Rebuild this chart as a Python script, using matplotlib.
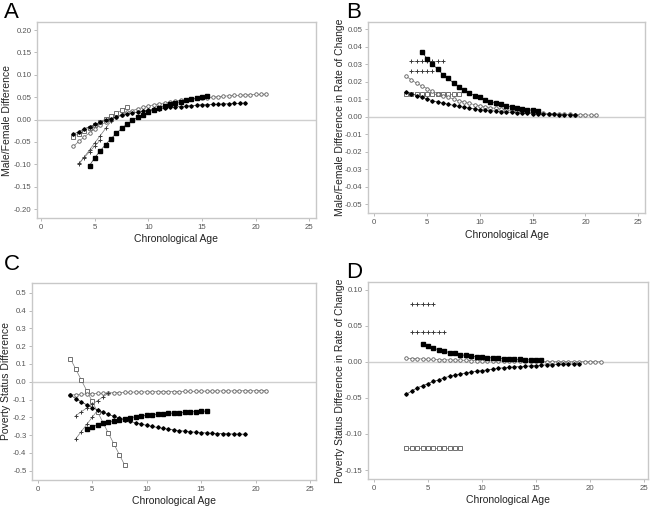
import numpy as np
import matplotlib
matplotlib.use("Agg")
import matplotlib.pyplot as plt

plt.rcParams["font.family"] = ["Liberation Sans", "DejaVu Sans"]

# ages (half-year steps)
age_sq = np.arange(4.5, 16.0, 0.5)      # filled squares 4.5-15.5
age_oc = np.arange(3.0, 21.5, 0.5)      # open circles 3-21
age_fc = np.arange(3.0, 19.5, 0.5)      # filled circles 3-19
age_os = np.arange(3.0, 8.5, 0.5)       # open squares 3-8
age_p1 = np.arange(3.5, 7.0, 0.5)       # plus 3.5-6.5
age_p2 = np.arange(3.5, 6.0, 0.5)       # plus 3.5-5.5

# Panel A: male/female difference
a_sq = [-0.103, -0.085, -0.070, -0.056, -0.043, -0.031, -0.020, -0.010, -0.002, 0.005, 0.011, 0.017,
        0.022, 0.026, 0.030, 0.034, 0.037, 0.040, 0.043, 0.045, 0.047, 0.050, 0.052]
a_oc = [-0.060, -0.049, -0.039, -0.030, -0.021, -0.013, -0.006, 0.000, 0.006, 0.011, 0.016, 0.020,
        0.024, 0.027, 0.030, 0.033, 0.035, 0.037, 0.039, 0.041, 0.043, 0.044, 0.046, 0.047, 0.048,
        0.049, 0.050, 0.051, 0.052, 0.053, 0.054, 0.054, 0.055, 0.055, 0.056, 0.056, 0.057]
a_fc = [-0.033, -0.027, -0.021, -0.016, -0.011, -0.006, -0.002, 0.002, 0.006, 0.009, 0.012, 0.015,
        0.017, 0.019, 0.021, 0.023, 0.024, 0.026, 0.027, 0.028, 0.029, 0.030, 0.031, 0.032, 0.033,
        0.033, 0.034, 0.034, 0.035, 0.035, 0.036, 0.036, 0.037]
a_os = [-0.038, -0.0315, -0.025, -0.0185, -0.012, -0.0055, 0.001, 0.0075, 0.014, 0.0205, 0.027]
a_p1 = [-0.100, -0.084, -0.068, -0.052, -0.036, -0.020, -0.004]
a_p2 = [-0.098, -0.085, -0.072, -0.059, -0.046]

# Panel B: male/female difference in rate of change
b_sq = [0.037, 0.033, 0.030, 0.027, 0.024, 0.022, 0.019, 0.017, 0.015, 0.0135, 0.012, 0.011,
        0.0095, 0.0085, 0.0078, 0.007, 0.006, 0.0055, 0.005, 0.0045, 0.004, 0.0035, 0.003]
b_oc = [0.023, 0.021, 0.019, 0.0175, 0.016, 0.0145, 0.013, 0.012, 0.011, 0.010, 0.009, 0.0083,
        0.0075, 0.0068, 0.0062, 0.0056, 0.0051, 0.0046, 0.0042, 0.0038, 0.0034, 0.0031, 0.0028,
        0.0025, 0.0023, 0.0021, 0.0019, 0.0017, 0.0016, 0.0014, 0.0013, 0.0012, 0.0011, 0.0010,
        0.0009, 0.0008, 0.0008]
b_fc = [0.014, 0.013, 0.012, 0.011, 0.010, 0.009, 0.0083, 0.0076, 0.007, 0.0064, 0.0058, 0.0053,
        0.0048, 0.0044, 0.004, 0.0037, 0.0034, 0.0031, 0.0028, 0.0026, 0.0024, 0.0022, 0.002,
        0.0018, 0.0017, 0.0015, 0.0014, 0.0013, 0.0012, 0.0011, 0.001, 0.0009, 0.0009]
b_os = [0.013] * 11
b_p1 = [0.032] * 7
b_p2 = [0.026] * 5

# Panel C: poverty status difference
c_sq = [-0.265, -0.253, -0.243, -0.234, -0.226, -0.219, -0.213, -0.207, -0.202, -0.197, -0.193,
        -0.189, -0.186, -0.183, -0.180, -0.178, -0.176, -0.174, -0.172, -0.170, -0.168, -0.167, -0.165]
c_oc = [-0.075, -0.073, -0.071, -0.069, -0.067, -0.066, -0.065, -0.063, -0.062, -0.061, -0.060,
        -0.059, -0.058, -0.058, -0.057, -0.057, -0.056, -0.056, -0.055, -0.055, -0.055, -0.054,
        -0.054, -0.054, -0.053, -0.053, -0.053, -0.052, -0.052, -0.052, -0.052, -0.051, -0.051,
        -0.051, -0.051, -0.050, -0.050]
c_fc = [-0.075, -0.095, -0.113, -0.130, -0.145, -0.159, -0.172, -0.184, -0.195, -0.205, -0.214,
        -0.223, -0.231, -0.238, -0.245, -0.251, -0.257, -0.262, -0.267, -0.271, -0.275, -0.278,
        -0.281, -0.284, -0.286, -0.288, -0.290, -0.291, -0.292, -0.293, -0.294, -0.294, -0.295]
c_os = [0.13, 0.07, 0.01, -0.05, -0.11, -0.17, -0.23, -0.29, -0.35, -0.41, -0.47]
c_p1 = [-0.190, -0.169, -0.148, -0.127, -0.106, -0.085, -0.064]
c_p2 = [-0.32, -0.28, -0.24, -0.20, -0.16]

# Panel D: poverty status difference in rate of change
d_sq = [0.025, 0.022, 0.019, 0.017, 0.015, 0.013, 0.012, 0.010, 0.009, 0.008, 0.0075, 0.007,
        0.006, 0.0055, 0.005, 0.0045, 0.004, 0.0038, 0.0035, 0.003, 0.0028, 0.0025, 0.0022]
d_oc = [0.005, 0.0047, 0.0044, 0.0041, 0.0038, 0.0035, 0.0033, 0.003, 0.0028, 0.0026, 0.0024,
        0.0022, 0.002, 0.0019, 0.0017, 0.0016, 0.0015, 0.0013, 0.0012, 0.0011, 0.001, 0.001,
        0.0009, 0.0008, 0.0008, 0.0007, 0.0006, 0.0006, 0.0005, 0.0005, 0.0005, 0.0004, 0.0004,
        0.0004, 0.0003, 0.0003, 0.0003]
d_fc = [-0.045, -0.040, -0.036, -0.033, -0.030, -0.027, -0.025, -0.022, -0.020, -0.018, -0.017,
        -0.015, -0.014, -0.013, -0.012, -0.011, -0.010, -0.009, -0.008, -0.0075, -0.007, -0.0065,
        -0.006, -0.0055, -0.005, -0.0045, -0.004, -0.0038, -0.0035, -0.0032, -0.003, -0.0028, -0.0025]
d_os = [-0.12] * 11
d_p1 = [0.042] * 7
d_p2 = [0.080] * 5

x_ticks = [0, 5, 10, 15, 20, 25]
line_col = "#7a7a7a"
gray = "#5a5a5a"


def draw_panel(ax, sq, oc, fc, os_, p1, p2, ylabel, ylab_x, xlab_y):
    ax.axhline(0, color="#cfcfcf", lw=1.0, zorder=0)
    ax.plot(age_os, os_, color=line_col, lw=0.5, marker="s", ms=2.3, mfc="white", mec=gray, mew=0.6)
    ax.plot(age_oc, oc, color=line_col, lw=0.5, marker="o", ms=2.5, mfc="white", mec=gray, mew=0.6)
    ax.plot(age_p1, p1, color=line_col, lw=0.5, marker="+", ms=3.0, mec="#3a3a3a", mew=0.7)
    ax.plot(age_p2, p2, color=line_col, lw=0.5, marker="+", ms=3.0, mec="#3a3a3a", mew=0.7)
    ax.plot(age_fc, fc, color="#333333", lw=0.5, marker="D", ms=1.8, mfc="black", mec="black")
    ax.plot(age_sq, sq, color="#333333", lw=0.5, marker="s", ms=2.3, mfc="black", mec="black")
    ax.set_xticks(x_ticks)
    for s in ax.spines.values():
        s.set_color("#c8c8c8")
        s.set_linewidth(1.0)
    ax.tick_params(axis="both", labelsize=5.6, colors="#b0b0b0", labelcolor="#555555",
                   length=2.5, width=0.6, pad=1.5)
    ax.set_xlabel("Chronological Age", fontsize=7.5, color="#222222")
    ax.xaxis.set_label_coords(0.5, xlab_y)
    ax.xaxis.label.set_va("center")
    ax.set_ylabel(ylabel, fontsize=7.5, color="#222222")
    ax.yaxis.set_label_coords(ylab_x, 0.5)
    ax.yaxis.label.set_va("center")


fig = plt.figure(figsize=(6.51, 5.07), dpi=100)

axA = fig.add_axes([0.0568, 0.570, 0.4286, 0.3866])
draw_panel(axA, a_sq, a_oc, a_fc, a_os, a_p1, a_p2, "Male/Female Difference", -0.106, -0.107)
axA.set_xlim(-0.40, 25.63)
axA.set_ylim(-0.2201, 0.2179)
a_ticks = [0.20, 0.15, 0.10, 0.05, 0.00, -0.05, -0.10, -0.15, -0.20]
axA.set_yticks(a_ticks)
axA.set_yticklabels([f"{t:.2f}" for t in a_ticks])

axB = fig.add_axes([0.5653, 0.5799, 0.4255, 0.3767])
draw_panel(axB, b_sq, b_oc, b_fc, b_os, b_p1, b_p2,
           "Male/Female Difference in Rate of Change", -0.101, -0.115)
axB.set_xlim(-0.60, 25.64)
axB.set_ylim(-0.0551, 0.054)
b_ticks = [0.05, 0.04, 0.03, 0.02, 0.01, 0.00, -0.01, -0.02, -0.03, -0.04, -0.05]
axB.set_yticks(b_ticks)
axB.set_yticklabels([f"{t:.2f}" for t in b_ticks])

axC = fig.add_axes([0.0492, 0.0533, 0.4362, 0.3885])
draw_panel(axC, c_sq, c_oc, c_fc, c_os, c_p1, c_p2, "Poverty Status Difference", -0.090, -0.105)
axC.set_xlim(-0.52, 25.55)
axC.set_ylim(-0.552, 0.5545)
c_ticks = [0.5, 0.4, 0.3, 0.2, 0.1, 0.0, -0.1, -0.2, -0.3, -0.4, -0.5]
axC.set_yticks(c_ticks)
axC.set_yticklabels([f"{t:.1f}" for t in c_ticks])

axD = fig.add_axes([0.5653, 0.0552, 0.430, 0.3886])
draw_panel(axD, d_sq, d_oc, d_fc, d_os, d_p1, d_p2,
           "Poverty Status Difference in Rate of Change", -0.100, -0.107)
axD.set_xlim(-0.56, 25.37)
axD.set_ylim(-0.1625, 0.111)
d_ticks = [0.10, 0.05, 0.00, -0.05, -0.10, -0.15]
axD.set_yticks(d_ticks)
axD.set_yticklabels([f"{t:.2f}" for t in d_ticks])

# panel letters
fig.text(0.006, 0.997, "A", fontsize=16, va="top", ha="left")
fig.text(0.532, 0.997, "B", fontsize=16, va="top", ha="left")
fig.text(0.006, 0.500, "C", fontsize=16, va="top", ha="left")
fig.text(0.532, 0.483, "D", fontsize=16, va="top", ha="left")

fig.savefig("out.png", dpi=100)
